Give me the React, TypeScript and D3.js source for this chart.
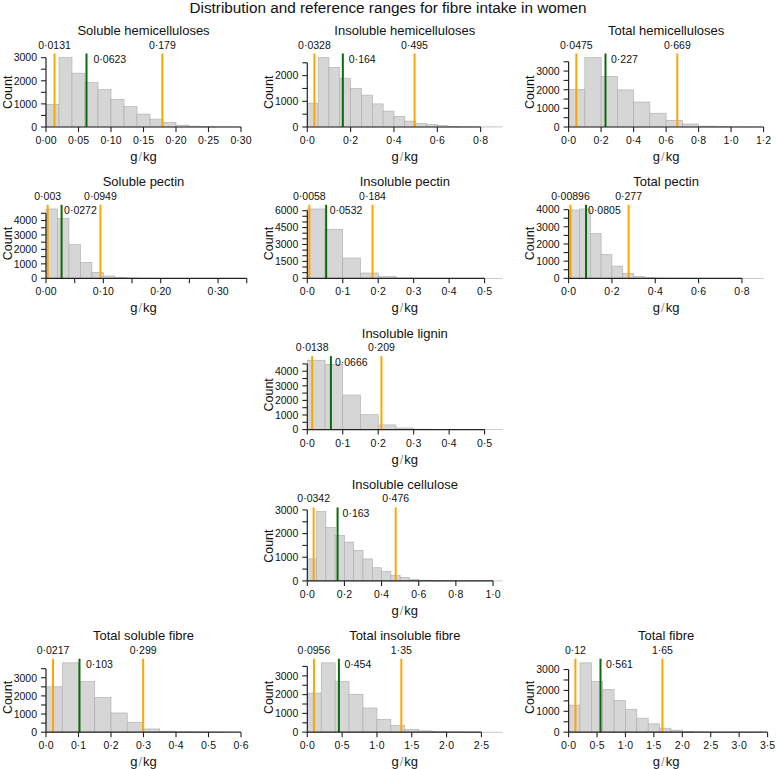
import React from 'react';
import * as d3 from 'd3';

// panel data, in reading order (left to right, top to bottom)
const panelTitles = [
  'Soluble hemicelluloses', 'Insoluble hemicelluloses', 'Total hemicelluloses',
  'Soluble pectin', 'Insoluble pectin', 'Total pectin',
  'Insoluble lignin', 'Insoluble cellulose',
  'Total soluble fibre', 'Total insoluble fibre', 'Total fibre'
];

const binWidths = [0.02, 0.05, 0.1, 0.02, 0.05, 0.05, 0.05, 0.05, 0.05, 0.2, 0.2];

const solHemiCounts = [980, 3000, 2330, 1920, 1620, 1200, 880, 560, 340, 200, 80, 35, 15, 8, 4];
const insolHemiCounts = [930, 2700, 2320, 1900, 1500, 1240, 900, 620, 420, 230, 140, 90, 50, 20, 10, 6, 4, 3];
const totHemiCounts = [2020, 3720, 2720, 1990, 1340, 740, 360, 160, 50, 20, 8, 4];
const solPectinCounts = [4800, 4160, 2330, 1100, 410, 160, 70, 20, 6, 3];
const insolPectinCounts = [6150, 4350, 1800, 470, 150, 30, 10, 5, 3, 2, 2];
const totPectinCounts = [3980, 4040, 2600, 1380, 710, 290, 100, 30, 12, 6, 4, 3, 2, 2, 2, 2, 1, 1];
const ligninCounts = [4750, 4470, 2370, 1020, 320, 110, 30, 10, 5, 3, 2];
const celluloseCounts = [930, 2930, 2260, 1920, 1640, 1290, 930, 555, 390, 220, 140, 60, 30, 15, 8, 5, 3, 2, 2, 2, 1];
const totSolCounts = [2500, 3820, 2800, 1920, 1060, 550, 180, 55, 15, 5, 2];
const totInsolCounts = [2080, 3690, 2700, 2010, 1290, 690, 370, 140, 70, 25, 10, 5, 3, 2];
const totFibreCounts = [1300, 3320, 2430, 2050, 1520, 1100, 670, 400, 190, 100, 30, 10, 5, 3, 2, 1, 1];

const allCounts = [
  solHemiCounts, insolHemiCounts, totHemiCounts,
  solPectinCounts, insolPectinCounts, totPectinCounts,
  ligninCounts, celluloseCounts,
  totSolCounts, totInsolCounts, totFibreCounts
];

const refLow = [0.0131, 0.0328, 0.0475, 0.003, 0.0058, 0.00896, 0.0138, 0.0342, 0.0217, 0.0956, 0.12];
const refHigh = [0.179, 0.495, 0.669, 0.0949, 0.184, 0.277, 0.209, 0.476, 0.299, 1.35, 1.65];
const medians = [0.0623, 0.164, 0.227, 0.0272, 0.0532, 0.0805, 0.0666, 0.163, 0.103, 0.454, 0.561];
const refLowLabels = ['0·0131', '0·0328', '0·0475', '0·003', '0·0058', '0·00896', '0·0138', '0·0342', '0·0217', '0·0956', '0·12'];
const refHighLabels = ['0·179', '0·495', '0·669', '0·0949', '0·184', '0·277', '0·209', '0·476', '0·299', '1·35', '1·65'];
const medianLabels = ['0·0623', '0·164', '0·227', '0·0272', '0·0532', '0·0805', '0·0666', '0·163', '0·103', '0·454', '0·561'];

// axes
const xDomainMax = [0.30, 0.9, 1.2, 0.34, 0.55, 0.9, 0.55, 1.05, 0.6, 2.8, 3.43];
const xTickMax = [0.30, 0.8, 1.2, 0.35, 0.5, 0.8, 0.5, 1.0, 0.6, 2.5, 3.5];
const xTickStep = [0.05, 0.2, 0.2, 0.05, 0.1, 0.2, 0.1, 0.2, 0.1, 0.5, 0.5];
const xLabelStep = [0.05, 0.2, 0.2, 0.1, 0.1, 0.2, 0.1, 0.2, 0.1, 0.5, 0.5];
const xDecimals = [2, 1, 1, 2, 1, 1, 1, 1, 1, 1, 1];
const yLabelStep = [1000, 1000, 1000, 1000, 1500, 1000, 1000, 1000, 1000, 1000, 1000];

// layout
const cells = [[0, 0], [0, 1], [0, 2], [1, 0], [1, 1], [1, 2], [2, 1], [3, 1], [4, 0], [4, 1], [4, 2]];
const medianDx = [7, 6, 5.5, 2.5, 3.5, 2, 4, 5, 6.5, 5.5, 5.5];

const FONT = 'Liberation Sans, Arial, Helvetica, sans-serif';
const ORANGE = '#ffa500';
const GREEN = '#0a6a0a';
const AXIS = '#222';

function Panel({ i }: { i: number }) {
  const [row, col] = cells[i];
  const x0 = 46 + col * 261.3;
  const base = 127 + row * 151.3;
  const pw = 195;
  const ph = 73.5;
  const counts = allCounts[i];
  const bw = binWidths[i];
  const maxCount = d3.max(counts)!;
  const yMax = maxCount * 1.06;

  const x = d3.scaleLinear().domain([0, xDomainMax[i]]).range([x0, x0 + pw]);
  const y = d3.scaleLinear().domain([0, yMax]).range([base, base - ph]);

  const nX = Math.round(xTickMax[i] / xTickStep[i]);
  const xTicks = d3.range(0, nX + 1).map(k => k * xTickStep[i]);
  const labelEvery = Math.round(xLabelStep[i] / xTickStep[i]);
  const fmt = d3.format(`.${xDecimals[i]}f`);

  // y ticks every 500, capped near the tallest bar
  const nY = Math.floor((maxCount * 1.03) / 500);
  const yTicks = d3.range(0, nY + 1).map(k => k * 500);
  const yLast = yTicks[yTicks.length - 1];

  const top = base - ph;

  return (
    <g>
      <text x={x0 + pw / 2} y={base - 92} textAnchor="middle" fontSize={13} fill="#111">{panelTitles[i]}</text>

      {counts.map((c, k) => (
        <rect key={k} x={x(k * bw)} y={y(c)} width={x((k + 1) * bw) - x(k * bw)} height={base - y(c)}
          fill="#d6d6d6" stroke="#ababab" strokeWidth={0.6} />
      ))}

      {/* reference range and median */}
      <line x1={x(refLow[i])} x2={x(refLow[i])} y1={base} y2={top} stroke={ORANGE} strokeWidth={2} />
      <line x1={x(refHigh[i])} x2={x(refHigh[i])} y1={base} y2={top} stroke={ORANGE} strokeWidth={2} />
      <line x1={x(medians[i])} x2={x(medians[i])} y1={base} y2={top} stroke={GREEN} strokeWidth={2} />
      <text x={x(refLow[i])} y={base - 78.5} textAnchor="middle" fontSize={10.5} fill="#111">{refLowLabels[i]}</text>
      <text x={x(refHigh[i])} y={base - 78.5} textAnchor="middle" fontSize={10.5} fill="#111">{refHighLabels[i]}</text>
      <text x={x(medians[i]) + medianDx[i]} y={base - 64} fontSize={10.5} fill="#111">{medianLabels[i]}</text>

      {/* x axis */}
      <line x1={x(0)} x2={x(xTicks[xTicks.length - 1])} y1={base} y2={base} stroke={AXIS} strokeWidth={1.2} />
      {xTicks.map((t, k) => (
        <g key={k}>
          <line x1={x(t)} x2={x(t)} y1={base} y2={base + 5} stroke={AXIS} strokeWidth={1.1} />
          {k % labelEvery === 0 && (
            <text x={x(t)} y={base + 17} textAnchor="middle" fontSize={10.5} fill="#111">{fmt(t).replace('.', '·')}</text>
          )}
        </g>
      ))}
      <text x={x0 + pw / 2} y={base + 34} textAnchor="middle" fontSize={13} fill="#111">
        g<tspan fill="#999" dx={1}>/</tspan><tspan dx={1}>kg</tspan>
      </text>

      {/* y axis */}
      <line x1={x0} x2={x0} y1={base} y2={y(yLast)} stroke={AXIS} strokeWidth={1.2} />
      {yTicks.map((t, k) => (
        <g key={k}>
          <line x1={x0 - 5} x2={x0} y1={y(t)} y2={y(t)} stroke={AXIS} strokeWidth={1.1} />
          {t % yLabelStep[i] === 0 && (
            <text x={x0 - 9} y={y(t) + 3.8} textAnchor="end" fontSize={10.5} fill="#111">{t}</text>
          )}
        </g>
      ))}
      <text transform={`translate(${x0 - 34.5},${base - ph / 2 + 2}) rotate(-90)`} textAnchor="middle" fontSize={12.5} fill="#111">Count</text>
    </g>
  );
}

export default function App() {
  return (
    <svg width={776} height={769} style={{ position: 'absolute', left: 0, top: 0, background: '#fff' }} fontFamily={FONT}>
      <rect width={776} height={769} fill="#fff" />
      <text x={388} y={13} textAnchor="middle" fontSize={15.3} fill="#111">Distribution and reference ranges for fibre intake in women</text>
      {panelTitles.map((_, i) => <Panel key={i} i={i} />)}
    </svg>
  );
}
